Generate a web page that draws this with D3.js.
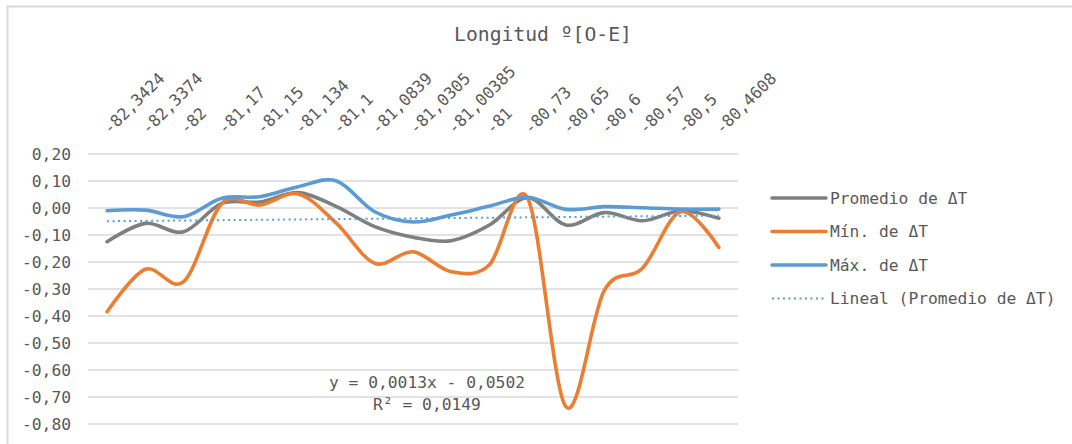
<!DOCTYPE html>
<html><head><meta charset="utf-8">
<script src="https://cdn.jsdelivr.net/npm/d3@7"></script>
<style>
body{margin:0;background:#fff;}
text{font-family:"DejaVu Sans Mono","Liberation Mono",monospace;fill:#595959;}
</style></head>
<body><svg id="c" width="1072" height="444"></svg>
<script>
const categories = ["-82,3424","-82,3374","-82","-81,17","-81,15","-81,134","-81,1","-81,0839","-81,0305","-81,00385","-81","-80,73","-80,65","-80,6","-80,57","-80,5","-80,4608"];
const promedio = [-0.125,-0.057,-0.088,0.017,0.022,0.057,0.005,-0.069,-0.108,-0.121,-0.063,0.038,-0.063,-0.017,-0.047,-0.011,-0.038];
const minimo  = [-0.384,-0.227,-0.273,0.017,0.011,0.052,-0.057,-0.205,-0.162,-0.236,-0.210,0.036,-0.736,-0.306,-0.223,-0.014,-0.146];
const maximo  = [-0.010,-0.008,-0.032,0.036,0.042,0.079,0.100,-0.014,-0.052,-0.026,0.007,0.040,-0.005,0.005,0.001,-0.004,-0.004];
const yTicks = [0.2,0.1,0,-0.1,-0.2,-0.3,-0.4,-0.5,-0.6,-0.7,-0.8];
const trendSlope = 0.0013, trendIntercept = -0.0502;
const seriesNames = ["Promedio de ΔT","Mín. de ΔT","Máx. de ΔT","Lineal (Promedio de ΔT)"];

const svg = d3.select("#c");
svg.append("rect").attr("x",7.5).attr("y",6.5).attr("width",1100).attr("height",460)
  .attr("fill","none").attr("stroke","#d9d9d9").attr("stroke-width",2);

const x = d3.scaleBand().domain(categories).range([88,738]);
const cx = c => x(c) + x.bandwidth()/2;
const y = d3.scaleLinear().domain([-0.8,0.2]).range([424,154]);

// gridlines
svg.append("g").selectAll("line").data(yTicks).join("line")
  .attr("x1",88).attr("x2",738).attr("y1",d=>y(d)).attr("y2",d=>y(d))
  .attr("stroke","#d9d9d9").attr("stroke-width",1.3);

const fmt = d => d3.format(".2f")(d).replace(".",",").replace("−","-");
// y axis labels
const yAxis = d3.axisLeft(y).tickValues(yTicks).tickFormat(fmt).tickSize(0).tickPadding(0);
const ya = svg.append("g").attr("transform","translate(71,0)").call(yAxis);
ya.select(".domain").remove();
ya.selectAll("text").attr("font-size","16.3px").attr("fill","#595959")
  .style("font-family","'DejaVu Sans Mono',monospace");

// top category labels
svg.append("g").selectAll("text").data(categories).join("text")
  .attr("transform",d=>`translate(${cx(d)+3},${135}) rotate(-45)`)
  .attr("font-size","16.3px").text(d=>d);

// title
svg.append("text").attr("x",543).attr("y",41).attr("text-anchor","middle")
  .attr("font-size","19.7px").text("Longitud º[O-E]");

const line = d3.line().x((d,i)=>cx(categories[i])).y(d=>y(d)).curve(d3.curveCatmullRom.alpha(0));
const colors = ["#7f7f7f","#ed7d31","#5b9bd5"];
[promedio,minimo,maximo].forEach((s,k)=>{
  svg.append("path").datum(s).attr("d",line).attr("fill","none")
    .attr("stroke",colors[k]).attr("stroke-width",3.6).attr("stroke-linecap","round").attr("stroke-linejoin","round");
});
// trendline
const trend = categories.map((c,i)=>trendSlope*(i+1)+trendIntercept);
svg.append("path").datum(trend).attr("d",d3.line().x((d,i)=>cx(categories[i])).y(d=>y(d)))
  .attr("fill","none").attr("stroke","#5b9bd5").attr("stroke-width",2).attr("stroke-dasharray","2,3.5");

// equation
svg.append("text").attr("x",427).attr("y",388).attr("text-anchor","middle").attr("font-size","16.3px").text("y = 0,0013x - 0,0502");
svg.append("text").attr("x",427).attr("y",410).attr("text-anchor","middle").attr("font-size","16.3px").text("R² = 0,0149");

// legend
const lg = svg.append("g").selectAll("g").data(seriesNames).join("g")
  .attr("transform",(d,i)=>`translate(770,${198+i*33.5})`);
lg.append("line").attr("x1",2).attr("x2",56).attr("y1",0).attr("y2",0)
  .attr("stroke",(d,i)=>i<3?colors[i]:"#5b9bd5")
  .attr("stroke-width",(d,i)=>i<3?3.6:2)
  .attr("stroke-linecap",(d,i)=>i<3?"round":"butt")
  .attr("stroke-dasharray",(d,i)=>i<3?null:"2,3.5");
lg.append("text").attr("x",60).attr("y",5.5).attr("font-size","16.3px").text(d=>d);
</script></body></html>
